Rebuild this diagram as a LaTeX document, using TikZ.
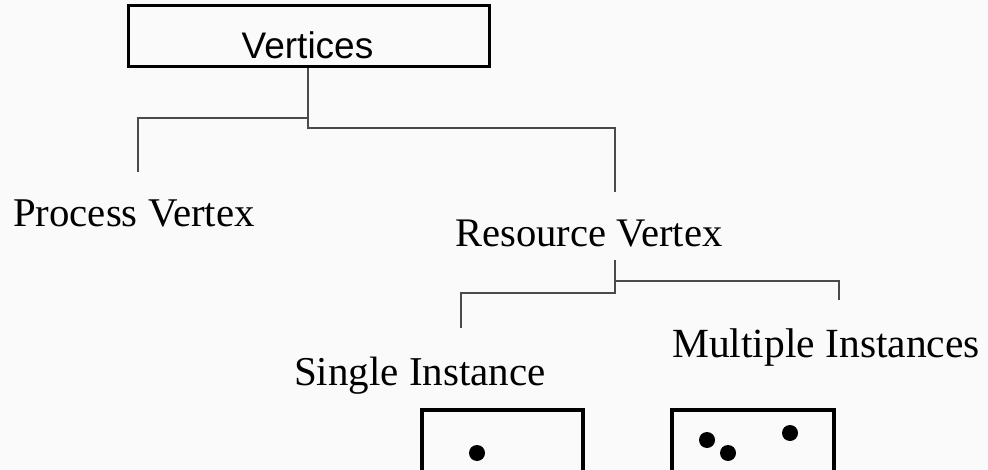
\documentclass[tikz,border=0pt]{standalone}
\usepackage{fontspec}
\setmainfont{Liberation Serif}
\newfontfamily\boxfont{Liberation Sans}
\definecolor{paper}{HTML}{FAFAFA}
\definecolor{wire}{HTML}{4A4A4A}
\tikzset{
  heavybox/.style={draw=black, line width=3.2pt},
  conn/.style={draw=wire, line width=2pt},
  label/.style={inner sep=0pt, anchor=base west, text=black},
  token/.style={fill=black, draw=none},
}
\begin{document}
\begin{tikzpicture}[x=1pt, y=-1pt]
  % canvas
  \useasboundingbox (0,0) rectangle (988,470);
  \fill[paper] (0,0) rectangle (988,470);
  \clip (0,0) rectangle (988,470);

  % root box
  \node[heavybox, minimum width=361pt, minimum height=61pt, inner sep=0pt,
        anchor=north west] (vert) at (127,4) {};
  \node[inner sep=0pt, anchor=base] (verttext) at (307.5,59)
        {\boxfont\fontsize{37}{40}\selectfont Vertices};

  % category labels
  \node[label] (proc) at (13,227) {\fontsize{40.8}{44}\selectfont Process Vertex};
  \node[label] (res) at (455,247) {\fontsize{40.6}{44}\selectfont Resource Vertex};
  \node[label] (single) at (294,385) {\fontsize{41}{44}\selectfont Single Instance};
  \node[label] (multi) at (672,357) {\fontsize{41.5}{44}\selectfont Multiple Instances};

  % tree connectors
  \coordinate (vj) at (308,128);
  \coordinate (vl) at (308,118);
  \coordinate (pv) at (138,172);
  \coordinate (rv) at (615,192);
  \draw[conn] (vert.south -| vj) -- (vj) -| (rv);
  \draw[conn] (vl) -| (pv);

  \coordinate (rtop) at (615,260);
  \coordinate (rj) at (615,293);
  \coordinate (si) at (461,328);
  \coordinate (mi) at (839,300);
  \draw[conn] (rtop) -- (rj) -| (si);
  \draw[conn] (rtop |- 0,281) -| (mi);

  % resource instance boxes
  \draw[heavybox] (422,410) rectangle (583,478);
  \draw[heavybox] (672,410) rectangle (834,478);
  \fill[token] (477,453) circle (8);
  \fill[token] (707,440) circle (8);
  \fill[token] (728,453) circle (8);
  \fill[token] (790,433) circle (8);
\end{tikzpicture}
\end{document}
